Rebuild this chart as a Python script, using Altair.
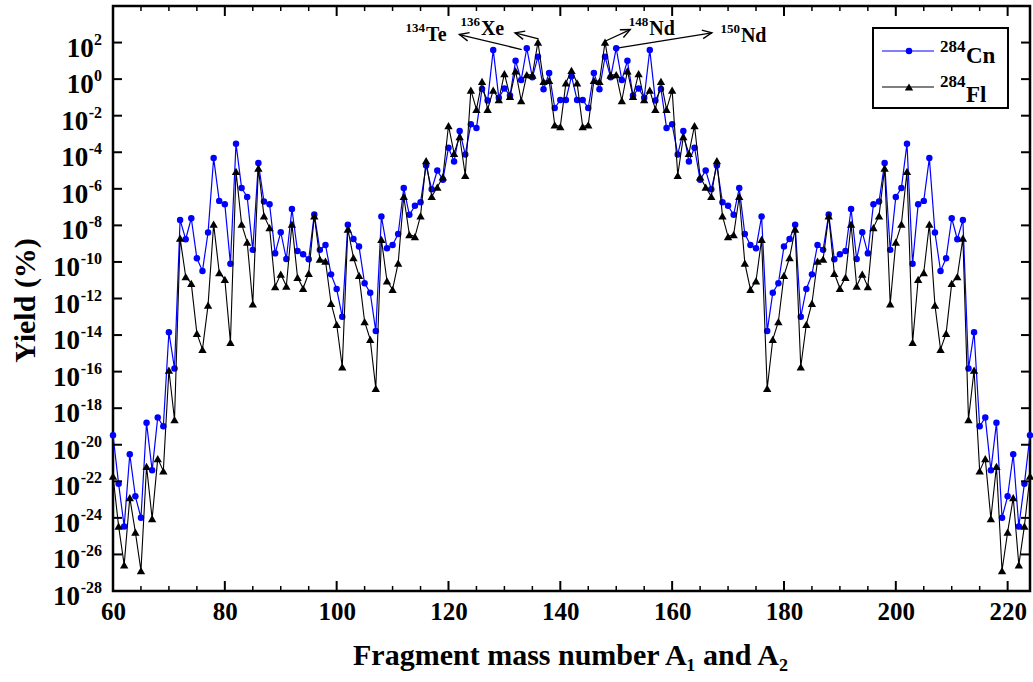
import math
import altair as alt
import pandas as pd

# ---------------- data (log10 of yield in %) for A1 = 60..142 ----------------
a1_mass = list(range(60, 143))
cn_log = [
    -19.48, -22.13, -24.47, -20.52, -22.82, -23.99, -18.80, -21.40, -18.51, -18.99,
    -13.85, -15.83, -7.70, -8.76, -7.61, -9.80, -10.49, -8.39, -4.32, -6.66,
    -6.84, -10.10, -3.53, -5.96, -6.45, -9.34, -4.59, -6.70, -6.84, -9.53,
    -8.37, -9.84, -7.11, -9.40, -9.58, -9.85, -7.40, -9.34, -9.07, -10.68,
    -11.48, -13.00, -7.97, -8.75, -9.16, -11.17, -11.68, -13.78, -7.51, -9.25,
    -9.07, -8.47, -5.96, -7.42, -6.93, -6.74, -4.73, -6.03, -5.00, -5.51,
    -3.75, -4.50, -2.84, -4.12, -2.47, -2.67, -0.54, -1.17, 1.60, -1.02,
    -0.51, -0.90, 1.00, -0.05, 1.69, 0.10, 1.22, -0.56, 0.34, -1.58,
    -1.14, -1.14, 0.16,
]
fl_log = [
    -21.71, -24.45, -26.57, -22.89, -24.78, -26.88, -21.18, -24.04, -20.76, -21.43,
    -15.92, -18.62, -8.70, -10.80, -11.17, -13.91, -14.78, -12.36, -7.93, -10.58,
    -10.95, -14.40, -5.05, -7.93, -8.92, -12.30, -4.87, -7.48, -8.12, -11.35,
    -10.66, -11.32, -7.93, -10.84, -11.44, -10.62, -7.48, -9.85, -9.95, -12.26,
    -13.41, -15.74, -8.20, -9.76, -10.74, -13.27, -14.24, -16.92, -8.76, -11.04,
    -11.50, -10.07, -6.42, -8.50, -8.61, -7.48, -4.46, -6.42, -5.91, -5.35,
    -2.54, -4.06, -3.15, -5.26, -0.60, -1.65, -0.12, -1.65, -0.60, -1.12,
    0.30, -0.94, 0.45, -1.17, 0.25, 0.22, 2.02, -0.12, -0.07, -2.50,
    -2.60, -0.21, 0.48,
]

# complementary fragment A2 = 284 - A1 carries the same yield
a2_mass = [284 - a for a in reversed(a1_mass[:-1])]
mass = a1_mass + a2_mass
cn_all = cn_log + list(reversed(cn_log[:-1]))
fl_all = fl_log + list(reversed(fl_log[:-1]))

df_cn = pd.DataFrame({"A": mass, "Yield": [10 ** v for v in cn_all]})
df_fl = pd.DataFrame({"A": mass, "Yield": [10 ** v for v in fl_all]})

# annotations
ann_main = ["Te", "Xe", "Nd", "Nd"]
ann_sup = ["134", "136", "148", "150"]
ann_A = [116.0, 125.8, 155.9, 172.3]
ann_e = [2.07, 2.44, 2.44, 2.02]
arr_tail_A = [133.1, 136.1, 148.0, 150.4]
arr_tail_e = [1.62, 2.20, 2.07, 1.71]
arr_head_A = [121.95, 131.9, 152.5, 167.1]
arr_head_e = [2.44, 2.53, 2.71, 2.53]

W, H = 917, 585
XMIN, XMAX = 60, 224
EMIN, EMAX = -28, 4
sx = W / (XMAX - XMIN)
sy = H / (EMAX - EMIN)

ann_df = pd.DataFrame({
    "main": ann_main, "sup": ann_sup,
    "A": ann_A, "Yield": [10 ** e for e in ann_e],
})
angles = []
for ta, te, ha, he in zip(arr_tail_A, arr_tail_e, arr_head_A, arr_head_e):
    dx = (ha - ta) * sx
    dy = -(he - te) * sy
    angles.append(math.degrees(math.atan2(dy, dx)) % 360)
arr_df = pd.DataFrame({
    "A": arr_tail_A, "Yield": [10 ** e for e in arr_tail_e],
    "A2": arr_head_A, "Y2": [10 ** e for e in arr_head_e],
    "ang": angles,
})

FONT = "Liberation Serif"
y_tick_vals = [10.0 ** e for e in range(-28, 3, 2)]

xs = alt.Scale(domain=[XMIN, XMAX], nice=False, zero=False)
ys = alt.Scale(type="log", domain=[10.0 ** EMIN, 10.0 ** EMAX], nice=False)

x_enc = alt.X("A:Q", scale=xs, axis=alt.Axis(
    values=list(range(60, 221, 20)), title="Fragment mass number A₁ and A₂",
    labelPadding=8, labelFlush=False, titleX=457, titleY=64, titleBaseline="middle",
    titleAlign="center"))
y_enc = alt.Y("Yield:Q", scale=ys, axis=alt.Axis(
    values=y_tick_vals, labels=False, title="Yield (%)",
    titleX=-88, titleY=294, titleAngle=270,
    titleBaseline="middle", titleAlign="center"))

cn_line = alt.Chart(df_cn).mark_line(color="#0000ff", strokeWidth=1.2).encode(x=x_enc, y=y_enc)
cn_pts = alt.Chart(df_cn).mark_point(shape="circle", filled=True, size=42,
                                     color="#0000ff", opacity=1).encode(x="A:Q", y="Yield:Q")
fl_line = alt.Chart(df_fl).mark_line(color="black", strokeWidth=1.1).encode(x="A:Q", y="Yield:Q")
fl_pts = alt.Chart(df_fl).mark_point(shape="triangle-up", filled=True, size=70,
                                     color="black", opacity=1).encode(x="A:Q", y="Yield:Q")

# y tick labels as 10 with a raised exponent
ytick_df = pd.DataFrame({"Yield": y_tick_vals})
ylab = alt.Chart(ytick_df).transform_calculate(
    ex="round(log(datum.Yield) / LN10)",
).transform_calculate(
    es="'' + datum.ex",
).transform_calculate(
    lx="-11 - 8.2 * length(replace(datum.es, '-', '')) - (datum.ex < 0 ? 5.5 : 0)",
)
ylab_base = ylab.mark_text(font=FONT, fontWeight="bold", fontSize=27, align="right",
                           baseline="alphabetic", dy=14, color="black").encode(
    x=alt.X("lx:Q", scale=None), y="Yield:Q", text=alt.value("10"))
ylab_exp = ylab.mark_text(font=FONT, fontWeight="bold", fontSize=16, align="right",
                          baseline="alphabetic", dy=2, color="black").encode(
    x=alt.value(-11), y="Yield:Q", text="es:N")

# inward ticks
ytl = alt.Chart(ytick_df).mark_rule(color="black", strokeWidth=2).encode(
    y="Yield:Q", x=alt.value(0), x2=alt.value(9))
ytr = alt.Chart(ytick_df).mark_rule(color="black", strokeWidth=2).encode(
    y="Yield:Q", x=alt.value(W), x2=alt.value(W - 9))
major_df = pd.DataFrame({"A": list(range(80, 221, 20))})
minor_df = pd.DataFrame({"A": [a for a in range(65, 224, 5) if a % 20 != 0]})
xtb_major = alt.Chart(major_df).mark_rule(color="black", strokeWidth=2).encode(
    x="A:Q", y=alt.value(H), y2=alt.value(H - 10))
xtt_major = alt.Chart(major_df).mark_rule(color="black", strokeWidth=2).encode(
    x="A:Q", y=alt.value(0), y2=alt.value(10))
xtb_minor = alt.Chart(minor_df).mark_rule(color="black", strokeWidth=1.5).encode(
    x="A:Q", y=alt.value(H), y2=alt.value(H - 5))
xtt_minor = alt.Chart(minor_df).mark_rule(color="black", strokeWidth=1.5).encode(
    x="A:Q", y=alt.value(0), y2=alt.value(5))

# annotations
arr_line = alt.Chart(arr_df).mark_rule(color="black", strokeWidth=1.3).encode(
    x="A:Q", y="Yield:Q", x2="A2:Q", y2="Y2:Q")
arr_head = alt.Chart(arr_df).mark_point(
    shape="M-1,-0.45L0,0L-1,0.45", filled=False, size=360, color="black",
    strokeWidth=1.4, opacity=1).encode(
    x=alt.X("A2:Q"), y=alt.Y("Y2:Q"), angle=alt.Angle("ang:Q", scale=None))
ann_t = alt.Chart(ann_df).mark_text(
    font=FONT, fontWeight="bold", fontSize=20, align="left", baseline="alphabetic",
    color="black").encode(x="A:Q", y="Yield:Q", text="main:N")
ann_s = alt.Chart(ann_df).mark_text(
    font=FONT, fontWeight="bold", fontSize=13, align="right", baseline="alphabetic",
    dy=-9, dx=-1, color="black").encode(x="A:Q", y="Yield:Q", text="sup:N")

# manual legend
one = pd.DataFrame({"k": [0]})
leg_box = alt.Chart(one).mark_rect(fill="white", stroke="black", strokeWidth=2).encode(
    x=alt.value(760), x2=alt.value(895), y=alt.value(22), y2=alt.value(102))
leg_l1 = alt.Chart(one).mark_rule(color="#0000ff", strokeWidth=1.2).encode(
    x=alt.value(769), x2=alt.value(821), y=alt.value(45))
leg_p1 = alt.Chart(one).mark_point(shape="circle", filled=True, size=42, color="#0000ff",
                                   opacity=1).encode(x=alt.value(796), y=alt.value(45))
leg_l2 = alt.Chart(one).mark_rule(color="black", strokeWidth=1.1).encode(
    x=alt.value(769), x2=alt.value(821), y=alt.value(81))
leg_p2 = alt.Chart(one).mark_point(shape="triangle-up", filled=True, size=70, color="black",
                                   opacity=1).encode(x=alt.value(796), y=alt.value(81))
leg_s1 = alt.Chart(one).mark_text(font=FONT, fontWeight="bold", fontSize=17, align="left",
                                  baseline="alphabetic", color="black").encode(
    x=alt.value(827), y=alt.value(46), text=alt.value("284"))
leg_m1 = alt.Chart(one).mark_text(font=FONT, fontWeight="bold", fontSize=23, align="left",
                                  baseline="alphabetic", color="black").encode(
    x=alt.value(853), y=alt.value(57), text=alt.value("Cn"))
leg_s2 = alt.Chart(one).mark_text(font=FONT, fontWeight="bold", fontSize=17, align="left",
                                  baseline="alphabetic", color="black").encode(
    x=alt.value(827), y=alt.value(81), text=alt.value("284"))
leg_m2 = alt.Chart(one).mark_text(font=FONT, fontWeight="bold", fontSize=23, align="left",
                                  baseline="alphabetic", color="black").encode(
    x=alt.value(853), y=alt.value(96), text=alt.value("Fl"))

chart = alt.layer(
    cn_line, cn_pts, fl_line, fl_pts,
    ytl, ytr, xtb_major, xtt_major, xtb_minor, xtt_minor,
    arr_line, arr_head, ann_t, ann_s,
    leg_box, leg_l1, leg_p1, leg_l2, leg_p2, leg_s1, leg_m1, leg_s2, leg_m2,
    ylab_base, ylab_exp,
).properties(
    width=W, height=H,
    padding={"left": 113, "top": 6, "right": 3, "bottom": 91},
    autosize=alt.AutoSizeParams(type="none"),
    background="white",
).configure_view(stroke="black", strokeWidth=2.5).configure_axis(
    labelFont=FONT, labelFontSize=25, labelFontWeight="bold", labelColor="black",
    titleFont=FONT, titleFontSize=30, titleFontWeight="bold", titleColor="black",
    ticks=False, domain=False, grid=False,
)

chart.save("out.html", embed_options={"renderer": "svg", "actions": False})
